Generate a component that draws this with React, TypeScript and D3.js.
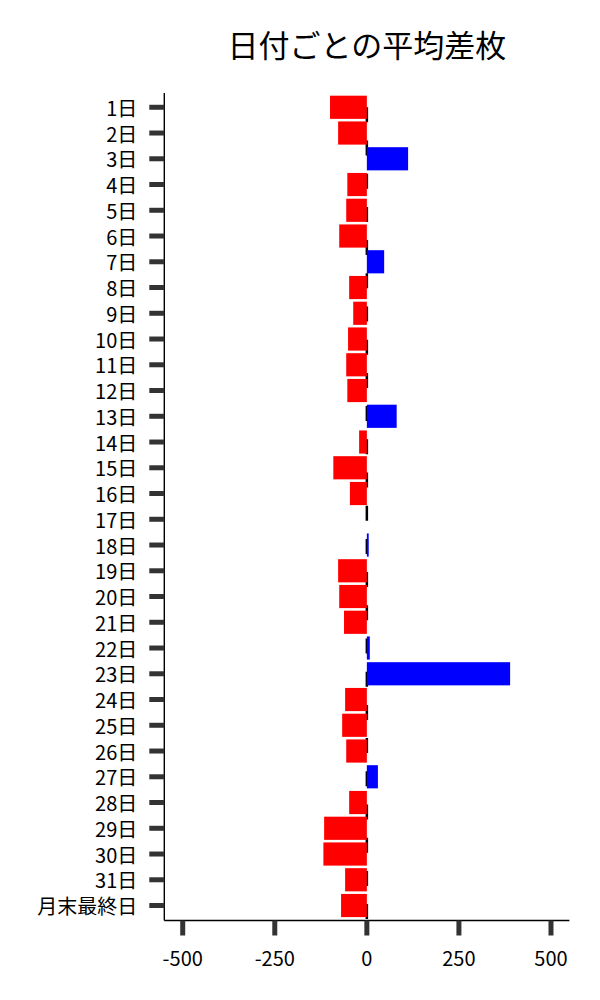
import * as d3 from "d3";

const dayLabels = [
  "1日", "2日", "3日", "4日", "5日", "6日", "7日", "8日", "9日", "10日",
  "11日", "12日", "13日", "14日", "15日", "16日", "17日", "18日", "19日", "20日",
  "21日", "22日", "23日", "24日", "25日", "26日", "27日", "28日", "29日", "30日",
  "31日", "月末最終日",
];
const avgDiff = [
  -100, -78, 112, -53, -56, -75, 47, -48, -37, -51,
  -56, -53, 81, -21, -91, -46, 0, 5, -78, -75,
  -62, 8, 389, -59, -67, -56, 30, -48, -116, -118,
  -59, -70,
];
const xTicks = [-500, -250, 0, 250, 500];
const titleText = "日付ごとの平均差枚";

const W = 600;
const H = 1000;
const plot = { left: 164.3, right: 569.4, top: 93, bottom: 920.5 };
const font = "'Noto Sans CJK JP', 'Noto Sans', sans-serif";
const tickColor = "#333";

export default function App() {
  const x = d3.scaleLinear().domain([-550, 550]).range([plot.left, plot.right]);
  const y = d3
    .scaleBand<string>()
    .domain(dayLabels)
    .range([94.4, 918.4])
    .paddingInner(0.1)
    .paddingOuter(0.05);
  const center = (d: string) => (y(d) ?? 0) + y.bandwidth() / 2;

  return (
    <svg
      width={W}
      height={H}
      style={{ position: "absolute", left: 0, top: 0, background: "#fff" }}
      fontFamily={font}
    >
      <text
        x={(plot.left + plot.right) / 2}
        y={43}
        textAnchor="middle"
        dominantBaseline="central"
        fontSize={31}
        fill="#000"
      >
        {titleText}
      </text>

      {/* dashed zero line, under the bars */}
      <line
        x1={x(0)}
        x2={x(0)}
        y1={center(dayLabels[0])}
        y2={plot.bottom}
        stroke="#000"
        strokeWidth={2.5}
        strokeDasharray="15 18.2"
      />

      {dayLabels.map((d, i) => {
        const v = avgDiff[i];
        return (
          <rect
            key={d}
            x={x(Math.min(0, v))}
            y={y(d)}
            width={Math.abs(x(v) - x(0))}
            height={y.bandwidth()}
            fill={v >= 0 ? "#0000ff" : "#ff0000"}
          />
        );
      })}

      {/* spines */}
      <line x1={plot.left} x2={plot.left} y1={plot.top} y2={plot.bottom} stroke="#000" strokeWidth={1.4} />
      <line x1={plot.left} x2={plot.right} y1={plot.bottom} y2={plot.bottom} stroke="#000" strokeWidth={1.4} />

      {/* y axis */}
      {dayLabels.map((d) => (
        <g key={d} transform={`translate(0,${center(d)})`}>
          <line x1={plot.left - 15} x2={plot.left} stroke={tickColor} strokeWidth={5} />
          <text
            x={plot.left - 27}
            textAnchor="end"
            dominantBaseline="central"
            fontSize={20}
            fill="#000"
          >
            {d}
          </text>
        </g>
      ))}

      {/* x axis */}
      {xTicks.map((t) => (
        <g key={t} transform={`translate(${x(t)},0)`}>
          <line y1={plot.bottom} y2={plot.bottom + 15} stroke={tickColor} strokeWidth={5} />
          <text
            y={957}
            textAnchor="middle"
            dominantBaseline="central"
            fontSize={20}
            fill="#000"
          >
            {t}
          </text>
        </g>
      ))}
    </svg>
  );
}
